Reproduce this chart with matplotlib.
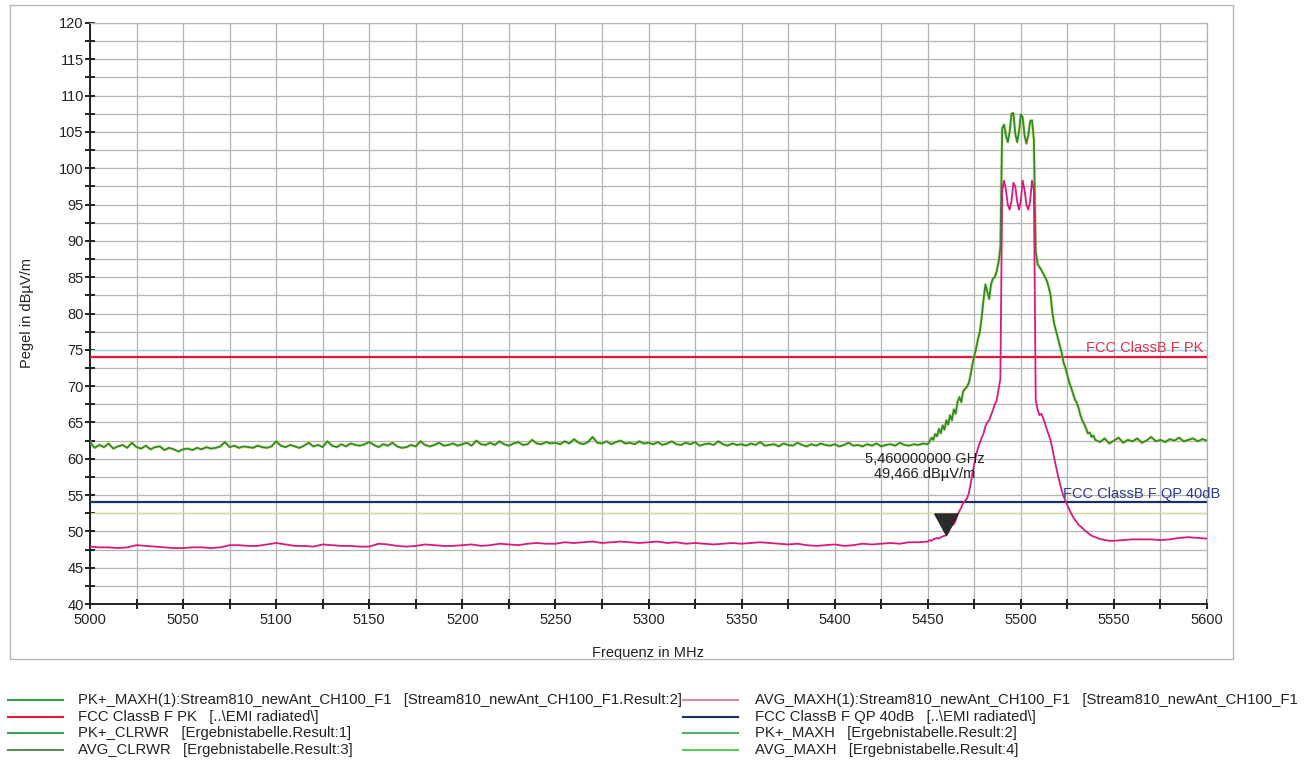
import matplotlib
matplotlib.use('Agg')
import matplotlib.pyplot as plt
from matplotlib.lines import Line2D
from matplotlib.patches import Rectangle
import numpy as np

plt.rcParams['font.family'] = ['Liberation Sans', 'DejaVu Sans']

# PK+ MAXH trace (green)
pk_freq = np.concatenate([np.arange(5000, 5450, 2.5),
                          np.arange(5450, 5541, 1),
                          np.arange(5542.5, 5600.1, 2.5)])
pk_level = [
  62.3, 61.5, 61.9, 61.6, 62.1, 61.4, 61.7, 61.9, 61.5, 62.2, 61.6, 61.4, 61.8, 61.3, 61.6, 61.7, 61.2, 61.5, 61.3, 61.0,
  61.3, 61.4, 61.2, 61.5, 61.3, 61.6, 61.4, 61.5, 61.7, 62.3, 61.6, 61.8, 61.5, 61.7, 61.6, 61.5, 61.8, 61.6, 61.5, 61.7,
  62.4, 61.8, 61.6, 61.9, 61.7, 61.5, 61.8, 62.2, 61.7, 61.9, 61.6, 62.4, 61.8, 61.6, 62.0, 61.7, 62.1, 61.9, 61.8, 62.0,
  62.3, 61.9, 61.6, 62.0, 61.8, 62.2, 61.7, 61.5, 61.6, 61.9, 61.7, 62.4, 61.9, 61.7, 61.9, 62.2, 61.8, 61.9, 62.1, 61.8,
  62.0, 62.2, 61.8, 62.5, 62.0, 61.9, 62.2, 61.9, 62.4, 62.0, 61.8, 62.1, 62.3, 61.9, 62.0, 62.6, 62.1, 62.0, 62.3, 62.1,
  62.2, 62.0, 62.4, 62.1, 62.7, 62.2, 62.0, 62.3, 63.0, 62.2, 62.1, 62.4, 62.0, 62.3, 62.5, 62.1, 62.2, 62.0, 62.4, 62.1,
  62.2, 62.0, 62.3, 61.9, 62.1, 62.4, 62.0, 61.9, 62.2, 62.0, 62.3, 61.8, 62.0, 62.1, 61.9, 62.4, 62.0, 61.8, 62.1, 61.9,
  62.0, 61.8, 62.1, 61.9, 62.3, 61.8, 61.9, 62.0, 61.7, 62.1, 61.9, 61.8, 62.2, 61.9, 61.7, 62.0, 61.8, 62.1, 61.9, 61.8,
  62.0, 61.7, 61.9, 62.2, 61.8, 61.9, 61.7, 62.0, 61.8, 62.1, 61.7, 61.9, 62.0, 61.8, 62.2, 61.9, 61.8, 62.0, 61.9, 62.1,
  62.0, 62.4, 62.9, 62.6, 63.4, 63.1, 64.1, 63.5, 64.6, 64.0,
  65.3, 64.7, 66.0, 65.3, 66.8, 66.2, 67.8, 68.5, 67.8, 69.3,
  69.6, 69.9, 70.4, 71.5, 73.0, 74.2, 75.2, 76.5, 77.5, 79.5,
  82.0, 84.0, 83.0, 82.0, 84.0, 84.8, 85.0, 85.8, 87.0, 89.0,
  105.5, 106.0, 104.5, 103.6, 105.0, 107.5, 107.6, 104.8, 103.6, 105.0,
  107.4, 107.0, 104.5, 103.4, 104.5, 106.5, 106.6, 104.0, 88.5, 86.8,
  86.4, 86.0, 85.5, 85.0, 84.5, 83.6, 82.5, 80.0, 78.5, 77.5,
  76.5, 75.5, 74.5, 73.2, 72.5, 71.5, 70.5, 69.8, 69.0, 68.2,
  67.7, 67.0, 66.0, 65.3, 64.8, 64.2, 63.5, 63.6, 63.0, 63.2,
  62.6,
  62.3, 62.8, 62.1, 62.5, 62.9, 62.2, 62.6, 62.4, 62.8, 62.2, 62.5, 63.0,
  62.4, 62.6, 62.3, 62.7, 62.5, 62.9, 62.4, 62.6, 62.8, 62.4, 62.7, 62.5]

# AVG MAXH trace (magenta)
avg_freq = np.concatenate([np.arange(5000, 5450, 5),
                           np.arange(5450, 5551, 1),
                           np.arange(5555, 5601, 5)])
avg_level = [
  47.9, 47.8, 47.8, 47.7, 47.8, 48.1, 48.0, 47.9, 47.8, 47.7,
  47.7, 47.8, 47.8, 47.7, 47.8, 48.1, 48.1, 48.0, 48.0, 48.2,
  48.4, 48.2, 48.0, 48.0, 47.9, 48.2, 48.1, 48.0, 48.0, 47.9,
  47.9, 48.3, 48.2, 48.0, 47.9, 48.0, 48.2, 48.1, 48.0, 48.0,
  48.1, 48.2, 48.0, 48.1, 48.3, 48.2, 48.1, 48.3, 48.4, 48.3,
  48.3, 48.5, 48.4, 48.5, 48.6, 48.4, 48.5, 48.6, 48.5, 48.4,
  48.5, 48.6, 48.4, 48.5, 48.3, 48.4, 48.3, 48.2, 48.3, 48.4,
  48.3, 48.4, 48.5, 48.4, 48.3, 48.2, 48.3, 48.1, 48.0, 48.1,
  48.2, 48.0, 48.1, 48.3, 48.2, 48.3, 48.4, 48.3, 48.5, 48.5,
  48.6, 48.8, 48.7, 48.9, 49.0, 49.1, 49.0, 49.2, 49.3, 49.4,
  49.466, 49.9, 50.5, 50.8, 51.0, 51.5, 52.3, 52.8, 53.3, 53.9,
  54.2, 54.5, 55.2, 56.5, 58.0, 59.3, 60.5, 61.5, 62.2, 62.9,
  63.5, 64.5, 65.0, 65.3, 66.0, 66.7, 67.5, 68.0, 69.5, 71.0,
  97.0, 98.3, 97.0, 95.0, 94.3, 95.5, 98.0, 97.5, 95.5, 94.3,
  95.5, 98.3, 97.0, 95.0, 94.3, 95.5, 98.3, 97.0, 68.0, 66.8,
  66.0, 66.2, 65.6, 64.8, 64.0, 63.3, 62.5, 61.3, 60.0, 58.8,
  57.6, 56.6, 55.6, 54.8, 54.2, 53.6, 53.0, 52.5, 52.0, 51.6,
  51.3, 50.9, 50.7, 50.5, 50.2, 50.0, 49.8, 49.6, 49.4, 49.3,
  49.2, 49.1, 49.0, 48.9, 48.9, 48.8, 48.8, 48.7, 48.7, 48.7,
  48.7,
  48.8, 48.9, 48.9, 48.9, 48.8, 48.9, 49.1, 49.2, 49.1, 49.0]

# limit lines and marker
pk_limit = 74.0
qp_limit = 54.0
marker_freq = 5460.0
marker_level = 49.466

legend_left = [
  ('PK+_MAXH(1):Stream810_newAnt_CH100_F1   [Stream810_newAnt_CH100_F1.Result:2]', '#3a9a4a'),
  ('FCC ClassB F PK   [..\\EMI radiated\\]', '#e3173e'),
  ('PK+_CLRWR   [Ergebnistabelle.Result:1]', '#3f9f5a'),
  ('AVG_CLRWR   [Ergebnistabelle.Result:3]', '#5a8f5a'),
]
legend_right = [
  ('AVG_MAXH(1):Stream810_newAnt_CH100_F1   [Stream810_newAnt_CH100_F1', '#d88aa8'),
  ('FCC ClassB F QP 40dB   [..\\EMI radiated\\]', '#1b2f66'),
  ('PK+_MAXH   [Ergebnistabelle.Result:2]', '#5aae6a'),
  ('AVG_MAXH   [Ergebnistabelle.Result:4]', '#5ccc5c'),
]

W, H = 1312, 761
fig = plt.figure(figsize=(W/100, H/100), dpi=100)
fig.patch.set_facecolor('white')
ax = fig.add_axes([90/W, 1-604/H, (1207-90)/W, (604-23)/H])

xmin, xmax = 5000, 5600
ymin, ymax = 40, 120
ax.set_xlim(xmin, xmax)
ax.set_ylim(ymin, ymax)
ax.set_xticks(np.arange(xmin, xmax+1, 50))
ax.set_xticks(np.arange(xmin, xmax+1, 25), minor=True)
ax.set_yticks(np.arange(ymin, ymax+1, 5))
ax.set_yticks(np.arange(ymin, ymax+1, 2.5), minor=True)
ax.grid(True, which='both', color='#b4b4b4', linewidth=0.9)
ax.set_axisbelow(True)
ax.tick_params(which='both', direction='inout', length=7, width=1.4, color='#222222',
               labelsize=10.5, labelcolor='#222222', pad=3)
ax.tick_params(axis='y', pad=1)
for side in ['top', 'right']:
  ax.spines[side].set_color('#b4b4b4')
  ax.spines[side].set_linewidth(0.9)
for side in ['left', 'bottom']:
  ax.spines[side].set_color('#222222')
  ax.spines[side].set_linewidth(1.4)

ax.set_xlabel('Frequenz in MHz', fontsize=10.5, color='#222222', labelpad=14)
ax.set_ylabel('Pegel in dBµV/m', fontsize=10.5, color='#222222', labelpad=18)

# faint coloured grid artefacts
ax.axhline(75, color='#9ad6e6', linewidth=0.9, zorder=1)
ax.axhline(52.5, color='#d6dc98', linewidth=0.9, zorder=1)

ax.axhline(pk_limit, color='#e3173e', linewidth=1.6, zorder=3)
ax.axhline(qp_limit, color='#1b2f66', linewidth=1.6, zorder=3)

ax.plot(pk_freq, pk_level, color='#c9dc4a', linewidth=2.4, alpha=0.5, zorder=4)
ax.plot(pk_freq, pk_level, color='#2f8a2f', linewidth=1.3, zorder=5)
ax.plot(avg_freq, avg_level, color='#d81b7a', linewidth=1.3, zorder=6)

tri = [(-12, 22), (12, 22), (0, 0), (-12, 22)]
ax.plot([marker_freq], [marker_level], linestyle='none', marker=tri, markersize=31,
        color='#2b2b2b', zorder=7)
ax.text(5448.5, 58.9, '5,460000000 GHz\n49,466 dBµV/m', ha='center', va='center',
        fontsize=10.5, color='#222222', linespacing=1.1, zorder=8)

ax.text(5598, pk_limit+0.25, 'FCC ClassB F PK', ha='right', va='bottom',
        fontsize=10.5, color='#e3304a', zorder=8)
ax.text(5607, qp_limit+0.25, 'FCC ClassB F QP 40dB', ha='right', va='bottom',
        fontsize=10.5, color='#2b3990', zorder=8, clip_on=False)

# outer frame
fig.add_artist(Rectangle((10/W, 1-659/H), (1233-10)/W, (659-5)/H, transform=fig.transFigure,
                         fill=False, edgecolor='#b8b8b8', linewidth=1.0))

# legend below the frame
rows_y = [700, 717, 733, 750]
for (label, color), y in zip(legend_left, rows_y):
  fig.add_artist(Line2D([8/W, 63/W], [1-y/H, 1-y/H], color=color, linewidth=1.5))
  fig.text(78/W, 1-y/H, label, fontsize=10.7, color='#222222', va='center', ha='left')
for (label, color), y in zip(legend_right, rows_y):
  fig.add_artist(Line2D([683/W, 738/W], [1-y/H, 1-y/H], color=color, linewidth=1.5))
  fig.text(755/W, 1-y/H, label, fontsize=10.7, color='#222222', va='center', ha='left')

fig.savefig('out.png', dpi=100, facecolor='white')
plt.close(fig)
